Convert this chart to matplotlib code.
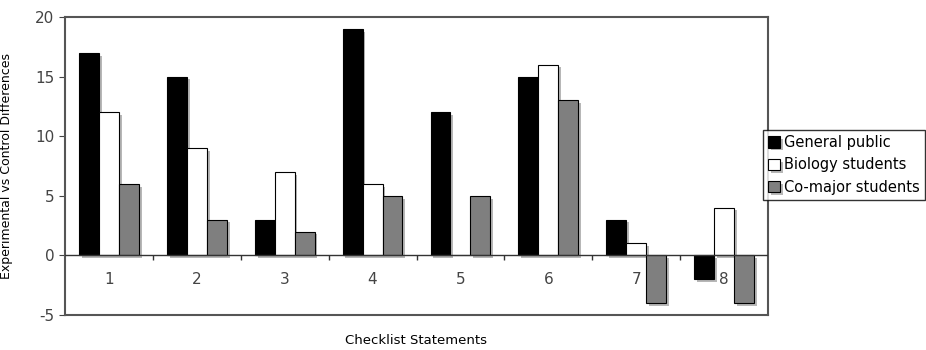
import numpy as np
import matplotlib
matplotlib.use("Agg")
import matplotlib.pyplot as plt
import matplotlib.patheffects as pe

statements = ['1', '2', '3', '4', '5', '6', '7', '8']
general_public = [17, 15, 3, 19, 12, 15, 3, -2]
biology_students = [12, 9, 7, 6, 0, 16, 1, 4]
comajor_students = [6, 3, 2, 5, 5, 13, -4, -4]

series = [('General public', general_public, 'black'),
          ('Biology students', biology_students, 'white'),
          ('Co-major students', comajor_students, '#7f7f7f')]

plt.rcParams['font.family'] = ['DejaVu Sans']
plt.rcParams['axes.unicode_minus'] = False

fig = plt.figure(figsize=(9.26, 3.5), dpi=100)
ax = fig.add_axes([65 / 926, 35 / 350, 703 / 926, 298 / 350])

x = np.arange(len(statements))
w = 0.227
shadow = [pe.SimplePatchShadow(offset=(2, -2), shadow_rgbFace='#999999', alpha=0.7), pe.Normal()]
for i, (name, vals, col) in enumerate(series):
    ax.bar(x + (i - 1) * w, vals, w, color=col, edgecolor='black', linewidth=0.8,
           label=name, path_effects=shadow, zorder=3)

ax.set_xlim(-0.5, len(statements) - 0.5)
ax.set_ylim(-5, 20)
ax.set_yticks([-5, 0, 5, 10, 15, 20])
ax.tick_params(axis='y', labelsize=11, colors='#444444', length=4, direction='out')
ax.set_xticks([])

ax.axhline(0, color='#333333', linewidth=1, zorder=4)
ax.vlines(np.arange(1, len(statements)) - 0.5, -0.35, 0, color='#333333', linewidth=1, zorder=4)
for xi, lab in zip(x, statements):
    ax.text(xi, -2.0, lab, ha='center', va='center', fontsize=11, color='#444444')

for s in ax.spines.values():
    s.set_color('#555555')
    s.set_linewidth(1.5)

ax.set_ylabel('Experimental vs Control Differences', fontsize=9, labelpad=16)
fig.text(416 / 926, 1 - 341 / 350, 'Checklist Statements', ha='center', va='center', fontsize=9.5)

leg = fig.legend(loc='upper left', bbox_to_anchor=(763 / 926, 1 - 130 / 350), fontsize=10.5,
                 frameon=True, fancybox=False, edgecolor='black', handlelength=0.8,
                 handleheight=0.8, handletextpad=0.3, borderpad=0.35, labelspacing=0.5,
                 borderaxespad=0)
leg.get_frame().set_linewidth(1)

fig.savefig('out.png', dpi=100)
